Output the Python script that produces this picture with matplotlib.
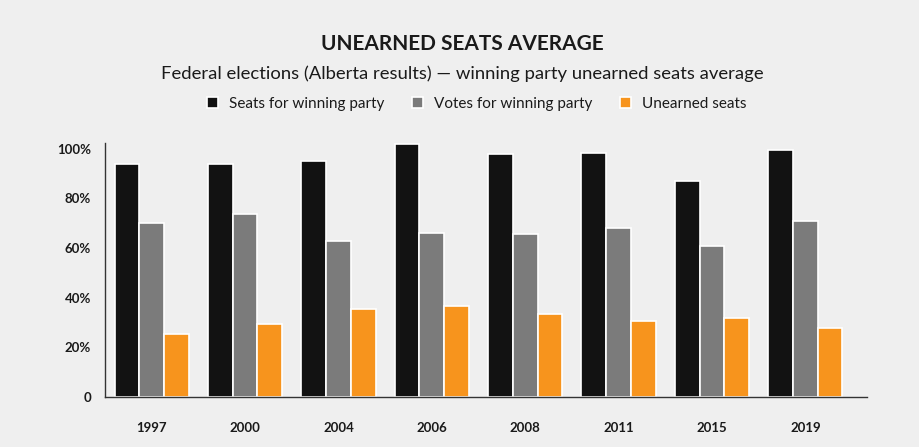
import matplotlib
matplotlib.use("Agg")
import matplotlib.pyplot as plt
import numpy as np

years = ["1997", "2000", "2004", "2006", "2008", "2011", "2015", "2019"]
seats = [93.9, 93.9, 94.9, 102.1, 98.0, 98.3, 86.9, 99.5]
votes = [70.1, 73.6, 62.8, 66.1, 65.7, 68.1, 61.0, 70.7]
unearned = [25.2, 29.2, 35.6, 36.7, 33.6, 30.5, 31.7, 27.6]
series_names = ["Seats for winning party", "Votes for winning party", "Unearned seats"]
ytick_vals = [0, 20, 40, 60, 80, 100]
ytick_labels = ["0", "20%", "40%", "60%", "80%", "100%"]

colors = ["#121212", "#7b7b7b", "#f7941d"]
bg = "#efefef"

plt.rcParams['font.family'] = ['Lato', 'DejaVu Sans']

fig = plt.figure(figsize=(9.2, 4.47), dpi=100, facecolor=bg)
ax = fig.add_axes([0.1141, 0.1119, 0.8283, 0.5681], facecolor=bg)

x = np.arange(len(years))
w = 0.265
for i, (vals, c, name) in enumerate(zip([seats, votes, unearned], colors, series_names)):
    ax.bar(x + (i - 1) * w, vals, width=w, color=c, edgecolor="white", linewidth=1.2, label=name)

ax.set_xlim(-0.5, 7.66)
ax.set_ylim(0, 102.3)
ax.set_yticks(ytick_vals)
ax.set_yticklabels(ytick_labels)
ax.set_xticks(x)
ax.set_xticklabels(years)
ax.tick_params(axis='both', length=0, labelsize=9.5, colors="#1a1a1a")
ax.tick_params(axis='x', pad=18)
ax.tick_params(axis='y', pad=10)
for lbl in ax.get_xticklabels() + ax.get_yticklabels():
    lbl.set_fontweight('bold')
for s in ["top", "right"]:
    ax.spines[s].set_visible(False)
for s in ["left", "bottom"]:
    ax.spines[s].set_color("#333333")
    ax.spines[s].set_linewidth(1.0)

fig.text(0.502, 0.901, "UNEARNED SEATS AVERAGE", ha="center", va="center",
         fontsize=15, fontweight="bold", color="#1a1a1a")
fig.text(0.503, 0.834, "Federal elections (Alberta results) \u2014 winning party unearned seats average",
         ha="center", va="center", fontsize=13.3, color="#1a1a1a")

handles, labels = ax.get_legend_handles_labels()
leg = fig.legend(handles, labels, loc="center", bbox_to_anchor=(0.518, 0.767), ncol=3,
                 frameon=False, fontsize=11, handlelength=0.75, handleheight=0.75,
                 handletextpad=0.7, columnspacing=1.8)
for t in leg.get_texts():
    t.set_color("#1a1a1a")

fig.savefig("out.png", dpi=100, facecolor=bg)
